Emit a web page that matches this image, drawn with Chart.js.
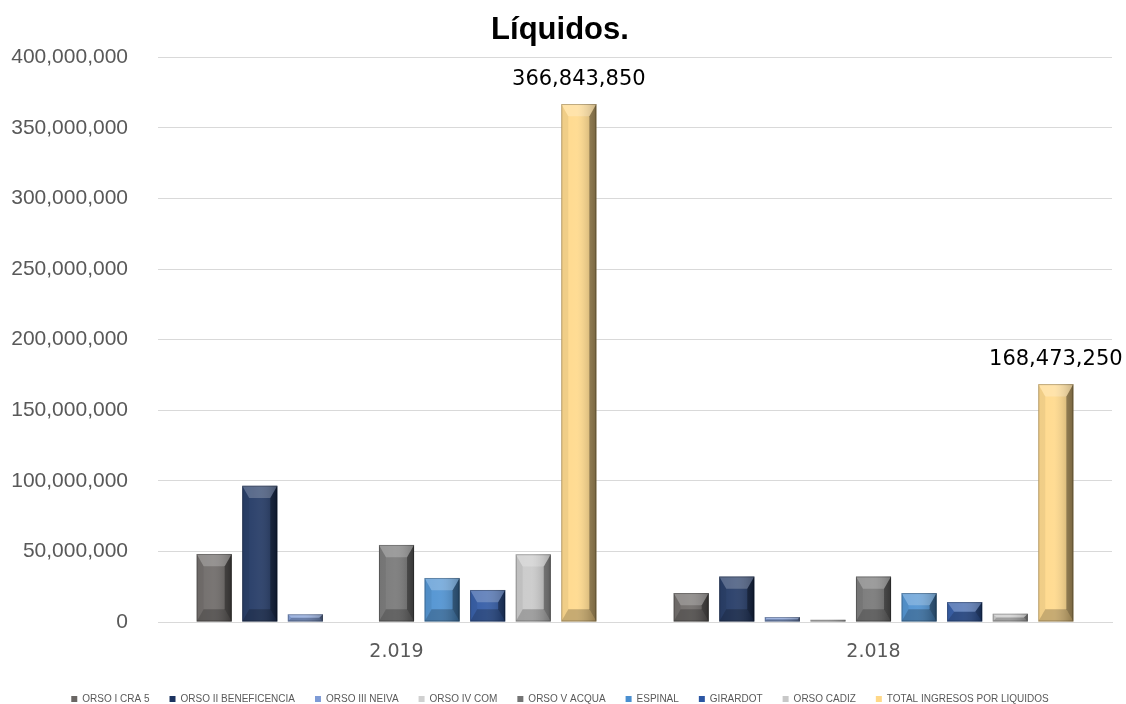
<!DOCTYPE html>
<html>
<head>
<meta charset="utf-8">
<script src="https://cdn.jsdelivr.net/npm/chart.js@4/dist/chart.umd.min.js"></script>
<style>
  html, body { margin: 0; padding: 0; background: #ffffff; }
  #wrap { width: 1126px; height: 704px; }
</style>
</head>
<body>
<div id="wrap"><canvas id="c" width="1126" height="704"></canvas></div>
<script>
// Years on the category axis
const categories = ['2.019', '2.018'];

// Income from liquids per office
const orsoICra5 = [48200000, 20500000];
const orsoIIBeneficencia = [96500000, 32200000];
const orsoIIINeiva = [5500000, 3500000];
const orsoIVCom = [0, 1600000];
const orsoVAcqua = [54600000, 32200000];
const espinal = [31200000, 20500000];
const girardot = [22700000, 14100000];
const orsoCadiz = [48000000, 5900000];
const totalIngresos = [366843850, 168473250];

const seriesNames = ['ORSO I CRA 5', 'ORSO II BENEFICENCIA', 'ORSO III NEIVA', 'ORSO IV COM',
  'ORSO V ACQUA', 'ESPINAL', 'GIRARDOT', 'ORSO CADIZ', 'TOTAL INGRESOS POR LIQUIDOS'];
const seriesValues = [orsoICra5, orsoIIBeneficencia, orsoIIINeiva, orsoIVCom,
  orsoVAcqua, espinal, girardot, orsoCadiz, totalIngresos];
const seriesColors = ['#6a6664', '#1c3360', '#7e9bd6', '#d0d0d0',
  '#747474', '#4a8fd0', '#2c56a3', '#c8c8c8', '#ffd888'];

const yTicks = { min: 0, max: 400000000, step: 50000000 };

const fmt = v => v.toLocaleString('en-US');

// Bevelled look for every bar: light top facet, dark bottom and right facets
const bevelPlugin = {
  id: 'bevel',
  afterDatasetsDraw(chart) {
    const ctx = chart.ctx;
    chart.data.datasets.forEach((ds, di) => {
      const meta = chart.getDatasetMeta(di);
      if (meta.hidden) return;
      meta.data.forEach(bar => {
        const p = bar.getProps(['x', 'y', 'base', 'width'], true);
        const l = p.x - p.width / 2, r = p.x + p.width / 2;
        const t = Math.min(p.y, p.base), b = Math.max(p.y, p.base);
        const h = b - t;
        if (h < 0.5) return;
        const dh = Math.min(p.width * 0.2, h / 2);
        const dv = Math.min(p.width * 0.35, h / 2);
        ctx.save();
        const face = (pts, fill) => {
          ctx.beginPath();
          ctx.moveTo(pts[0][0], pts[0][1]);
          for (let i = 1; i < pts.length; i++) ctx.lineTo(pts[i][0], pts[i][1]);
          ctx.closePath();
          ctx.fillStyle = fill;
          ctx.fill();
        };
        // center sheen
        const g = ctx.createLinearGradient(l, 0, r, 0);
        g.addColorStop(0, 'rgba(255,255,255,0.06)');
        g.addColorStop(0.45, 'rgba(255,255,255,0.10)');
        g.addColorStop(1, 'rgba(0,0,0,0.28)');
        ctx.fillStyle = g;
        ctx.fillRect(l, t, r - l, h);
        face([[l, t], [l + dh, t + dv], [l + dh, b - dv], [l, b]], 'rgba(0,0,0,0.06)');
        face([[r, t], [r - dh, t + dv], [r - dh, b - dv], [r, b]], 'rgba(0,0,0,0.35)');
        face([[l, t], [r, t], [r - dh, t + dv], [l + dh, t + dv]], 'rgba(255,255,255,0.22)');
        face([[l, b], [r, b], [r - dh, b - dv], [l + dh, b - dv]], 'rgba(0,0,0,0.22)');
        ctx.strokeStyle = 'rgba(0,0,0,0.25)';
        ctx.lineWidth = 1;
        ctx.strokeRect(l + 0.5, t + 0.5, r - l - 1, h - 1);
        ctx.restore();
      });
    });
  }
};

// Value labels above the total bars
const totalLabels = {
  id: 'totalLabels',
  afterDatasetsDraw(chart) {
    const di = seriesNames.length - 1;
    const meta = chart.getDatasetMeta(di);
    const ctx = chart.ctx;
    ctx.save();
    ctx.font = '21px "DejaVu Sans", sans-serif';
    ctx.fillStyle = '#000000';
    ctx.textAlign = 'center';
    ctx.textBaseline = 'bottom';
    meta.data.forEach((bar, i) => {
      ctx.fillText(fmt(totalIngresos[i]), bar.x, bar.y - 14);
    });
    ctx.restore();
  }
};

new Chart(document.getElementById('c'), {
  type: 'bar',
  data: {
    labels: categories,
    datasets: seriesNames.map((name, i) => ({
      label: name,
      data: seriesValues[i],
      backgroundColor: seriesColors[i],
      borderWidth: 0,
      categoryPercentage: 0.86,
      barPercentage: 0.77
    }))
  },
  options: {
    responsive: false,
    animation: false,
    layout: { padding: { left: 8, right: 14, top: 4, bottom: -10 } },
    plugins: {
      title: {
        display: true,
        text: 'Líquidos.',
        color: '#000000',
        font: { family: '"Liberation Sans", Arial, sans-serif', size: 31, weight: 'bold' },
        padding: { top: 8, bottom: 8 }
      },
      legend: {
        position: 'bottom',
        labels: {
          color: '#595959',
          font: { family: '"Liberation Sans", Arial, sans-serif', size: 10 },
          boxWidth: 6,
          boxHeight: 6,
          padding: 20
        }
      },
      tooltip: { enabled: false }
    },
    scales: {
      x: {
        grid: { display: false, drawTicks: false },
        border: { display: true, color: '#d9d9d9' },
        ticks: {
          color: '#595959',
          font: { family: '"DejaVu Sans", sans-serif', size: 19 },
          padding: 19
        },
        afterFit(scale) { scale.height = 52; }
      },
      y: {
        min: yTicks.min,
        max: yTicks.max,
        grid: { color: '#d9d9d9', drawTicks: false },
        border: { display: false },
        ticks: {
          stepSize: yTicks.step,
          color: '#595959',
          padding: 30,
          font: { family: '"Liberation Sans", Arial, sans-serif', size: 21 },
          callback: v => fmt(v)
        },
        afterFit(scale) { scale.width = 150; }
      }
    }
  },
  plugins: [bevelPlugin, totalLabels]
});
</script>
</body>
</html>
